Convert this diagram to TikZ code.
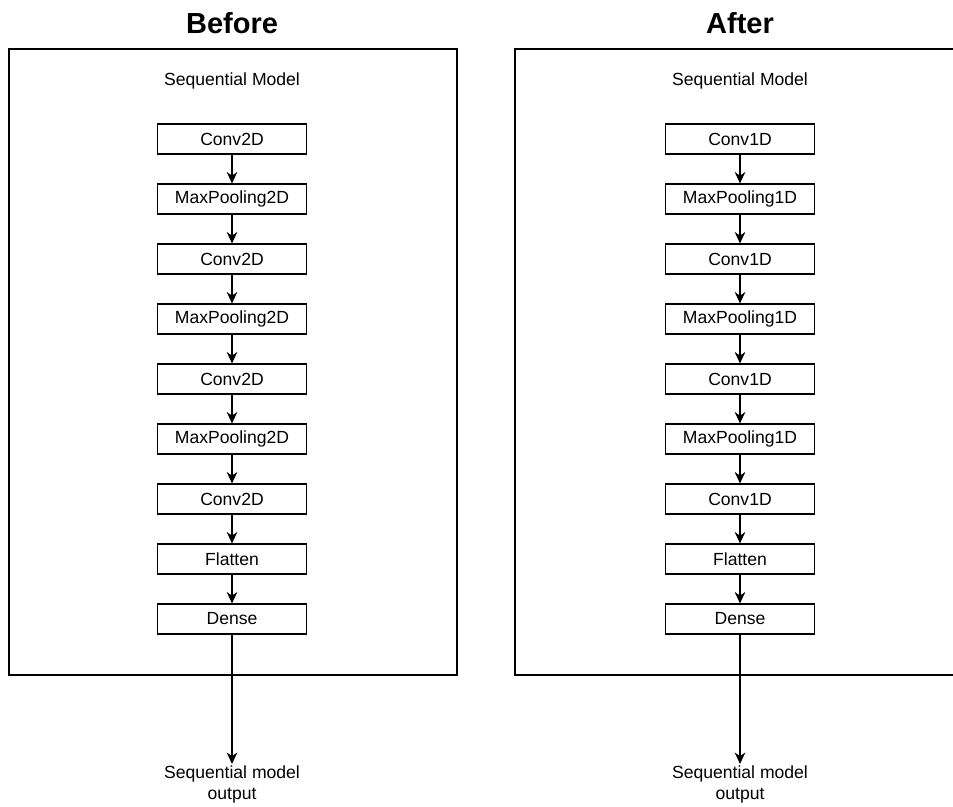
\documentclass[tikz,border=0pt]{standalone}
\usepackage{fontspec}
\setmainfont{Liberation Sans}
\usetikzlibrary{arrows.meta, positioning}

\begin{document}
\begin{tikzpicture}[
  x=0.02cm, y=-0.02cm,
  layer/.style={draw, line width=0.7pt, minimum width=84.5pt, minimum height=17pt, inner sep=0pt, font=\fontsize{10}{12}\selectfont},
  frame/.style={draw, line width=0.8pt},
  flow/.style={line width=0.85pt, -{Stealth[length=6.5pt, width=6pt, inset=2pt]}},
  heading/.style={font=\fontsize{16.5}{19}\selectfont\bfseries},
  caption/.style={font=\fontsize{10}{12}\selectfont, align=center}
]
  \useasboundingbox (0,0) rectangle (953,807);
  \clip (0,0) rectangle (953,807);

  % Before
  \node[heading] (tb) at (232, 23) {Before};
  \draw[frame] (9, 49) rectangle (457, 675);
  \node[caption] (mb) at (232, 81) {Sequential Model};
  \foreach \i/\t in {1/Conv2D, 2/MaxPooling2D, 3/Conv2D, 4/MaxPooling2D, 5/Conv2D, 6/MaxPooling2D, 7/Conv2D, 8/Flatten, 9/Dense} {
    \node[layer] (b\i) at (232, 79 + \i*60) {\t};
  }
  \node[caption, anchor=north, inner sep=1pt] (ob) at (232, 764) {Sequential model\\output};

  % After
  \node[heading] (ta) at (740, 23) {After};
  \draw[frame] (515, 49) rectangle (975, 675);
  \node[caption] (ma) at (740, 81) {Sequential Model};
  \foreach \i/\t in {1/Conv1D, 2/MaxPooling1D, 3/Conv1D, 4/MaxPooling1D, 5/Conv1D, 6/MaxPooling1D, 7/Conv1D, 8/Flatten, 9/Dense} {
    \node[layer] (a\i) at (740, 79 + \i*60) {\t};
  }
  \node[caption, anchor=north, inner sep=1pt] (oa) at (740, 764) {Sequential model\\output};

  % Flow
  \foreach \i/\j in {1/2, 2/3, 3/4, 4/5, 5/6, 6/7, 7/8, 8/9} {
    \draw[flow] (b\i) -- (b\j);
    \draw[flow] (a\i) -- (a\j);
  }
  \draw[flow] (b9) -- (ob);
  \draw[flow] (a9) -- (oa);
\end{tikzpicture}
\end{document}
